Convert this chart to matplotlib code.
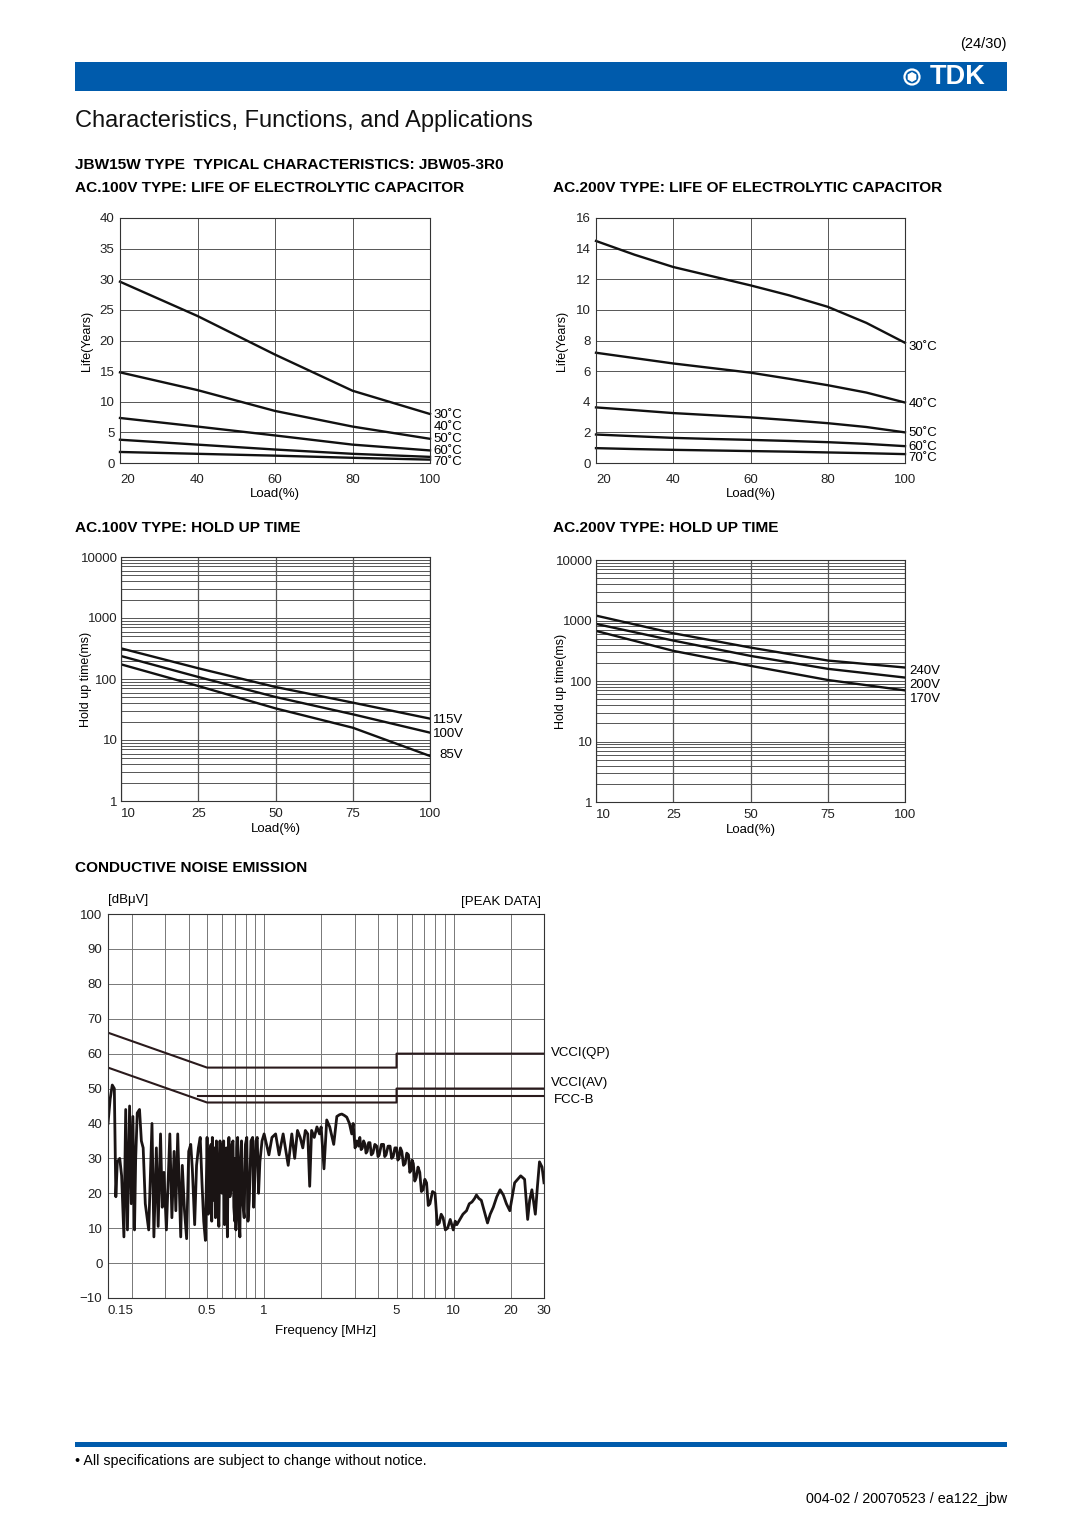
import matplotlib.pyplot as plt
import matplotlib.patches as mpatches
from matplotlib.ticker import NullLocator, FixedLocator, NullFormatter

plt.rcParams['font.family'] = ['Liberation Sans', 'DejaVu Sans']

# ---- data ----
life_load = [20, 40, 60, 80, 100]
life_temps = ["30˚C", "40˚C", "50˚C", "60˚C", "70˚C"]
life_100v = [
    [29.6, 24.0, 17.7, 11.8, 8.0],
    [14.8, 11.9, 8.5, 5.95, 3.95],
    [7.35, 5.95, 4.5, 3.0, 2.05],
    [3.8, 3.0, 2.2, 1.5, 1.0],
    [1.8, 1.5, 1.2, 0.85, 0.55],
]
life_200v_load = [20, 30, 40, 50, 60, 70, 80, 90, 100]
life_200v = [
    [14.5, 13.6, 12.8, 12.2, 11.6, 10.95, 10.2, 9.15, 7.85],
    [7.2, 6.85, 6.5, 6.2, 5.9, 5.5, 5.08, 4.6, 3.95],
    [3.63, 3.45, 3.26, 3.12, 2.98, 2.8, 2.6, 2.35, 2.0],
    [1.86, 1.75, 1.64, 1.57, 1.51, 1.44, 1.36, 1.25, 1.1],
    [0.97, 0.91, 0.86, 0.82, 0.78, 0.74, 0.69, 0.64, 0.58],
]

hold_load = ["10", "25", "50", "75", "100"]
hold_100v_names = ["115V", "100V", "85V"]
hold_100v = [
    [318, 150, 74, 41, 22.4],
    [238, 108, 50.7, 26.4, 13.2],
    [174, 76.8, 33, 15.9, 5.47],
]
hold_200v_names = ["240V", "200V", "170V"]
hold_200v = [
    [1205, 616, 357, 218, 167],
    [878, 466, 260, 159, 114],
    [673, 315, 178, 104, 70],
]

limit_names = ["VCCI(QP)", "VCCI(AV)", "FCC-B"]
vcci_qp_f = [0.15, 0.5, 5, 5, 30]
vcci_qp_db = [66, 56, 56, 60, 60]
vcci_av_f = [0.15, 0.5, 5, 5, 30]
vcci_av_db = [56, 46, 46, 50, 50]
fcc_b_f = [0.45, 30]
fcc_b_db = [48, 48]

# peak trace, (MHz, dBuV)
noise_trace = [
    (0.150, 40), (0.154, 47), (0.158, 51), (0.162, 50), (0.165, 19),
    (0.168, 29), (0.173, 30), (0.177, 25), (0.182, 7.5), (0.186, 44),
    (0.190, 9.5), (0.195, 45), (0.199, 17), (0.203, 42), (0.207, 9.5),
    (0.210, 30), (0.214, 43), (0.220, 44), (0.225, 35), (0.230, 33),
    (0.236, 17), (0.246, 9.5), (0.256, 40), (0.262, 7.5), (0.270, 33),
    (0.276, 10.5), (0.284, 37), (0.290, 16), (0.296, 26), (0.305, 9.5),
    (0.318, 37), (0.326, 13), (0.335, 32), (0.342, 15), (0.350, 37),
    (0.363, 7.5), (0.370, 28), (0.380, 15), (0.390, 7), (0.400, 32),
    (0.410, 34), (0.418, 27), (0.430, 11), (0.440, 28), (0.450, 33),
    (0.460, 36), (0.470, 23), (0.480, 12), (0.490, 6.5), (0.500, 36),
    (0.507, 14), (0.515, 20), (0.520, 33), (0.525, 34), (0.529, 12),
    (0.533, 36), (0.540, 18), (0.547, 33), (0.554, 13), (0.560, 35),
    (0.565, 30), (0.571, 16), (0.577, 10.5), (0.585, 35), (0.592, 22),
    (0.600, 20), (0.606, 34), (0.612, 35), (0.618, 11), (0.625, 15),
    (0.632, 33), (0.640, 7.5), (0.646, 30), (0.652, 36), (0.660, 19),
    (0.668, 21), (0.676, 34), (0.685, 35), (0.692, 16), (0.700, 12),
    (0.705, 30), (0.710, 9.5), (0.718, 33), (0.725, 36), (0.735, 14),
    (0.745, 7.5), (0.752, 30), (0.760, 35), (0.772, 17), (0.785, 13),
    (0.797, 34), (0.810, 36), (0.822, 12), (0.835, 18), (0.852, 35),
    (0.870, 36), (0.880, 16), (0.890, 22), (0.905, 35), (0.920, 36),
    (0.935, 20), (0.950, 29), (0.975, 35), (1.00, 37), (1.06, 31),
    (1.10, 36), (1.15, 37), (1.20, 31), (1.26, 37), (1.34, 28),
    (1.40, 37), (1.45, 30), (1.50, 38), (1.55, 36), (1.60, 33),
    (1.65, 38), (1.70, 37), (1.74, 22), (1.78, 38), (1.84, 36),
    (1.90, 39), (1.96, 37), (2.00, 39), (2.07, 27), (2.14, 41),
    (2.22, 39), (2.33, 34), (2.42, 42), (2.50, 42.5), (2.57, 42.7),
    (2.65, 42.3), (2.73, 41.8), (2.82, 40), (2.90, 37), (2.95, 40),
    (3.02, 33), (3.09, 35), (3.15, 33.5), (3.20, 36), (3.25, 32.5),
    (3.30, 33), (3.35, 35), (3.41, 34), (3.45, 31.5), (3.50, 32),
    (3.56, 34.5), (3.62, 34.5), (3.68, 31), (3.75, 31.5), (3.84, 34),
    (3.93, 33.5), (3.99, 30.5), (4.05, 31), (4.16, 34), (4.27, 34),
    (4.33, 30.5), (4.40, 31), (4.51, 33.5), (4.62, 33.5), (4.71, 30),
    (4.80, 30.5), (4.90, 33), (5.00, 33), (5.08, 29.5), (5.15, 30),
    (5.24, 33), (5.33, 32), (5.44, 28), (5.55, 28.5), (5.66, 31.5),
    (5.78, 31), (5.87, 26), (5.95, 26.5), (6.04, 29.5), (6.13, 28.5),
    (6.24, 23.5), (6.35, 24.5), (6.49, 27.5), (6.63, 26), (6.76, 20.5),
    (6.90, 21), (7.05, 24), (7.20, 23), (7.35, 16.5), (7.50, 17),
    (7.74, 20.5), (7.98, 20), (8.20, 11), (8.40, 11.5), (8.60, 14),
    (8.80, 13), (9.05, 9.5), (9.30, 10), (9.60, 12.5), (9.96, 9.5),
    (10.2, 12), (10.4, 11), (10.8, 12.5), (11.2, 14), (11.7, 15),
    (12.1, 17), (12.5, 17.5), (12.9, 18.5), (13.2, 19.5), (13.6, 18.5),
    (14.0, 18), (14.5, 15), (15.1, 11.5), (15.6, 14), (16.2, 16),
    (16.9, 19), (17.6, 21), (18.3, 19.5), (19.0, 17), (19.8, 15),
    (20.4, 19), (21.0, 23), (21.8, 24), (22.6, 25), (23.7, 24),
    (24.6, 12.5), (25.2, 18), (25.9, 21), (27.0, 14), (27.7, 22),
    (28.4, 29), (29.3, 27.5), (30.0, 23),
]
noise_freq = [p[0] for p in noise_trace]
noise_dbuv = [p[1] for p in noise_trace]

W, H = 1080, 1528
BLUE = "#005bac"
GRID = "#555555"

fig = plt.figure(figsize=(W / 100, H / 100), dpi=100)

deco = fig.add_axes([0, 0, 1, 1], zorder=-1)
deco.set_xlim(0, W)
deco.set_ylim(H, 0)
deco.axis("off")


def ax_at(l, t, r, b):
    return fig.add_axes([l / W, 1 - b / H, (r - l) / W, (b - t) / H])


def px_y(ax, y):
    # figure pixel row -> axes fraction
    pos = ax.get_position()
    return ((1 - y / H) - pos.y0) / pos.height


def px_x(ax, x):
    pos = ax.get_position()
    return (x / W - pos.x0) / pos.width


def style(ax):
    for s in ax.spines.values():
        s.set_color("#333333")
        s.set_linewidth(0.8)
    ax.tick_params(length=0, labelsize=9.5, colors="#222222")


# ---- page decorations ----
deco.text(1007, 44, "(24/30)", ha="right", va="center", fontsize=10.5)
deco.add_patch(mpatches.Rectangle((75, 62), 932, 29, color=BLUE, lw=0))
deco.text(986, 77, "TDK", ha="right", va="center", fontsize=19.5,
          fontweight="bold", color="white")
deco.add_patch(mpatches.Circle((912, 77), 7.5, fill=False, ec="white", lw=1.6))
deco.add_patch(mpatches.RegularPolygon((912, 77), 6, radius=4.2, color="white"))
deco.text(75, 121, "Characteristics, Functions, and Applications",
          ha="left", va="center", fontsize=17, color="#111111")
headings = [
    (75, 165, "JBW15W TYPE  TYPICAL CHARACTERISTICS: JBW05-3R0"),
    (75, 188, "AC.100V TYPE: LIFE OF ELECTROLYTIC CAPACITOR"),
    (553, 188, "AC.200V TYPE: LIFE OF ELECTROLYTIC CAPACITOR"),
    (75, 528, "AC.100V TYPE: HOLD UP TIME"),
    (553, 528, "AC.200V TYPE: HOLD UP TIME"),
    (75, 868, "CONDUCTIVE NOISE EMISSION"),
]
for hx, hy, txt in headings:
    deco.text(hx, hy, txt, ha="left", va="center", fontsize=11.1,
              fontweight="bold")
deco.add_patch(mpatches.Rectangle((75, 1442), 932, 5, color=BLUE, lw=0))
deco.text(75, 1461, "• All specifications are subject to change without notice.",
          ha="left", va="center", fontsize=10.3)
deco.text(1007, 1499, "004-02 / 20070523 / ea122_jbw",
          ha="right", va="center", fontsize=10.3)


# ---- life charts ----
def life_chart(ax, loads, curves, ymax, ystep, label_rows, ylabel_x):
    style(ax)
    for c in curves:
        ax.plot(loads, c, color="#111111", lw=1.7, clip_on=False)
    ax.set_xlim(20, 100)
    ax.set_ylim(0, ymax)
    ax.set_xticks([20, 40, 60, 80, 100])
    ax.xaxis.get_majorticklabels()[0].set_horizontalalignment("left")
    ax.set_yticks(range(0, ymax + 1, ystep))
    ax.grid(True, color=GRID, lw=0.7)
    ax.tick_params(axis="x", pad=8)
    ax.tick_params(axis="y", pad=4)
    ax.set_xlabel("Load(%)", fontsize=9.5, labelpad=1)
    ax.set_ylabel("Life(Years)", fontsize=9)
    ax.yaxis.set_label_coords(px_x(ax, ylabel_x), 0.5)
    for name, row in zip(life_temps, label_rows):
        ax.text(1.012, px_y(ax, row), name, transform=ax.transAxes,
                ha="left", va="center", fontsize=9.5)


ax1 = ax_at(120, 218, 430, 463)
life_chart(ax1, life_load, life_100v, 40, 5, [415, 427, 439, 451, 462], 93)
ax2 = ax_at(596, 218, 905, 463)
life_chart(ax2, life_200v_load, life_200v, 16, 2, [347, 404, 433, 447, 458], 568)


# ---- hold up time charts ----
def hold_chart(ax, curves, names, label_rows, label_x, ylabel_x):
    style(ax)
    xs = range(len(hold_load))
    for c in curves:
        ax.plot(xs, c, color="#111111", lw=1.7)
    ax.set_yscale("log")
    ax.set_ylim(1, 10000)
    ax.set_xlim(0, len(hold_load) - 1)
    ax.set_xticks(list(xs))
    ax.set_xticklabels(hold_load)
    ax.xaxis.get_majorticklabels()[0].set_horizontalalignment("left")
    ax.yaxis.set_major_locator(FixedLocator([1, 10, 100, 1000, 10000]))
    ax.set_yticklabels(["1", "10", "100", "1000", "10000"])
    ax.yaxis.set_minor_formatter(NullFormatter())
    ax.tick_params(which="minor", length=0)
    ax.grid(True, which="both", axis="y", color=GRID, lw=0.7)
    ax.grid(True, which="major", axis="x", color=GRID, lw=0.9)
    ax.tick_params(axis="x", pad=5)
    ax.tick_params(axis="y", pad=2.5)
    ax.set_xlabel("Load(%)", fontsize=9.5, labelpad=2)
    ax.set_ylabel("Hold up time(ms)", fontsize=9)
    ax.yaxis.set_label_coords(px_x(ax, ylabel_x), 0.5)
    for name, row, lx in zip(names, label_rows, label_x):
        ax.text(lx, px_y(ax, row), name, transform=ax.transAxes,
                ha="left", va="center", fontsize=9.5)


ax3 = ax_at(121, 557, 430, 801)
hold_chart(ax3, hold_100v, hold_100v_names, [720, 734, 755],
           [1.008, 1.008, 1.03], 92)
ax4 = ax_at(596, 560, 905, 802)
hold_chart(ax4, hold_200v, hold_200v_names, [671, 685, 699],
           [1.015, 1.015, 1.015], 567)

# ---- conductive noise emission ----
ax5 = ax_at(108, 914, 544, 1298)
style(ax5)
ax5.set_xscale("log")
ax5.set_xlim(0.15, 30)
ax5.set_ylim(-10, 100)
ax5.xaxis.set_minor_locator(NullLocator())
ax5.xaxis.set_major_locator(FixedLocator([0.15, 0.5, 1, 5, 10, 20, 30]))
ax5.set_xticklabels(["0.15", "0.5", "1", "5", "10", "20", "30"])
ax5.xaxis.get_majorticklabels()[0].set_horizontalalignment("left")
ax5.set_yticks(range(-10, 101, 10))
ax5.set_yticklabels(["\u221210"] + [str(v) for v in range(0, 101, 10)])
ax5.tick_params(axis="y", pad=4)
ax5.tick_params(axis="x", pad=5)
for f in [0.2, 0.3, 0.4, 0.5, 0.6, 0.7, 0.8, 0.9, 1, 2, 3, 4, 5, 6, 7, 8, 9, 10, 20]:
    ax5.axvline(f, color="#777777", lw=0.7, zorder=0)
for v in range(0, 100, 10):
    ax5.axhline(v, color="#777777", lw=0.7, zorder=0)
ax5.plot(vcci_qp_f, vcci_qp_db, color="#2a1a1c", lw=1.5)
ax5.plot(vcci_av_f, vcci_av_db, color="#2a1a1c", lw=1.5)
ax5.plot(fcc_b_f, fcc_b_db, color="#2a1a1c", lw=1.5)
ax5.plot(noise_freq, noise_dbuv, color="#1a1414", lw=2.0)
ax5.set_xlabel("Frequency [MHz]", fontsize=9.5, labelpad=6)
ax5.text(0.0, px_y(ax5, 900), "[dB\u03bcV]", transform=ax5.transAxes,
         ha="left", va="center", fontsize=9.5)
ax5.text(0.993, px_y(ax5, 902), "[PEAK DATA]", transform=ax5.transAxes,
         ha="right", va="center", fontsize=9.5)
for name, row, lx in zip(limit_names, [1053, 1083, 1100], [551, 551, 554]):
    deco.text(lx, row, name, ha="left", va="center", fontsize=9.5)

fig.savefig("out.png", dpi=100)
